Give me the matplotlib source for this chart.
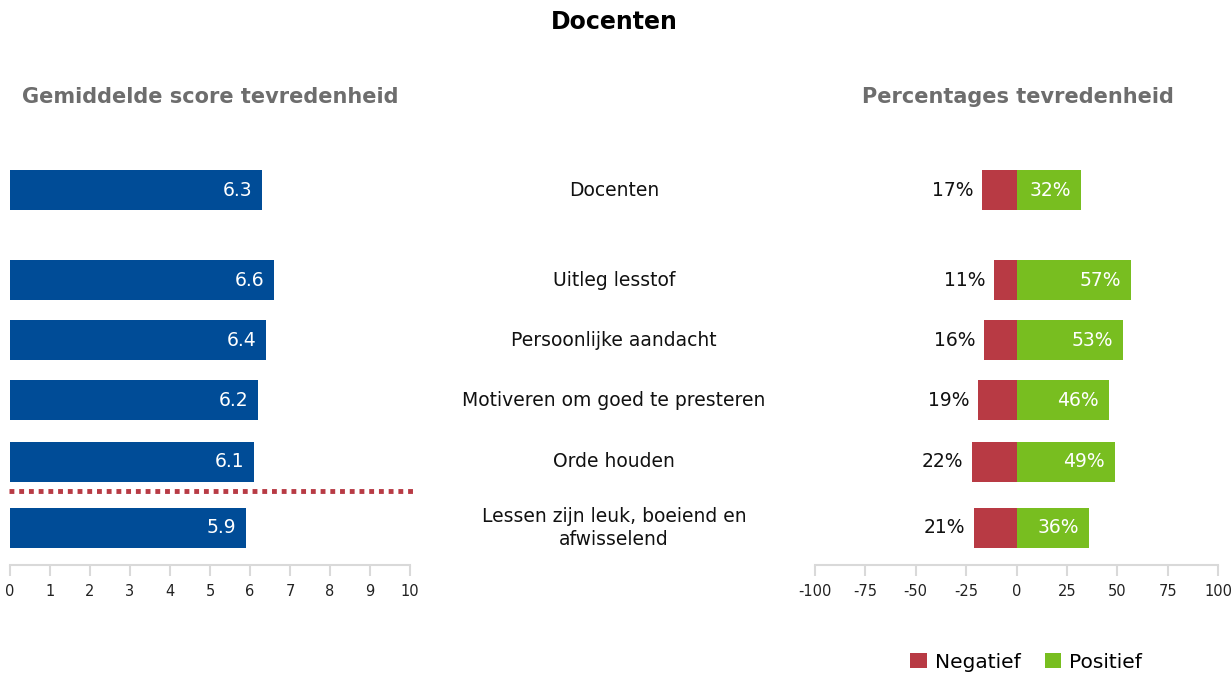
import matplotlib.pyplot as plt
import numpy as np

plt.rcParams["axes.unicode_minus"] = False

categories = ["Docenten", "Uitleg lesstof", "Persoonlijke aandacht",
              "Motiveren om goed te presteren", "Orde houden",
              "Lessen zijn leuk, boeiend en\nafwisselend"]
scores = [6.3, 6.6, 6.4, 6.2, 6.1, 5.9]
negatief = [17, 11, 16, 19, 22, 21]
positief = [32, 57, 53, 46, 49, 36]

BLUE = "#004c97"
RED = "#b83a44"
GREEN = "#78be20"
GRAY_AX = "#d9d9d9"

W, H = 1231, 678
fig = plt.figure(figsize=(W / 100, H / 100), dpi=100)

# row positions (first row separated from the rest)
ypos = np.array([0, 1.5, 2.5, 3.5, 4.53, 5.63])
ylim = (6.25, -0.667)
bh = 0.67


def px_axes(x0, x1, y0, y1):
    return fig.add_axes([x0 / W, 1 - y1 / H, (x1 - x0) / W, (y1 - y0) / H])


def style_axis(ax):
    for s in ["left", "right", "top"]:
        ax.spines[s].set_visible(False)
    ax.spines["bottom"].set_color(GRAY_AX)
    ax.spines["bottom"].set_linewidth(1.5)
    ax.tick_params(axis="x", colors=GRAY_AX, length=8, width=1.5,
                   labelcolor="#222222", labelsize=10.5, pad=6)
    ax.set_yticks([])
    ax.set_ylim(*ylim)


# left: average scores
ax1 = px_axes(10, 410, 150, 565)
ax1.barh(ypos, scores, height=bh, color=BLUE)
for y, v in zip(ypos, scores):
    ax1.text(v - 0.25, y, f"{v:.1f}", ha="right", va="center",
             color="white", fontsize=13.5)
ax1.axhline(5.02, color=RED, lw=3.5, ls=(0, (1, 1)), xmin=-0.003, xmax=1.007,
            clip_on=False)
ax1.set_xlim(0, 10)
ax1.set_xticks(range(0, 11))
style_axis(ax1)

# middle labels
axm = px_axes(414, 814, 150, 565)
axm.set_xlim(0, 1)
axm.set_ylim(*ylim)
axm.axis("off")
for y, c in zip(ypos, categories):
    axm.text(0.5, y, c, ha="center", va="center", fontsize=13.5,
             color="#111111", linespacing=1.25)

# right: percentages
ax2 = px_axes(815, 1218, 150, 565)
neg = -np.array(negatief)
ax2.barh(ypos, neg, height=bh, color=RED, label="Negatief")
ax2.barh(ypos, positief, height=bh, color=GREEN, label="Positief")
for y, n, p in zip(ypos, negatief, positief):
    ax2.text(-n - 4.5, y, f"{n}%", ha="right", va="center",
             color="#111111", fontsize=13.5)
    ax2.text(p - 5, y, f"{p}%", ha="right", va="center",
             color="white", fontsize=13.5)
ax2.set_xlim(-100, 100)
ax2.set_xticks(range(-100, 101, 25))
style_axis(ax2)

fig.legend(loc="center", bbox_to_anchor=(1026 / W, 1 - 662 / H),
           ncol=2, frameon=False, fontsize=14.5, handlelength=0.8,
           handleheight=0.8, handletextpad=0.4, columnspacing=1.2)

fig.text(614 / W, 1 - 22 / H, "Docenten", ha="center", va="center",
         fontsize=17, fontweight="bold", color="black")
fig.text(210 / W, 1 - 97 / H, "Gemiddelde score tevredenheid", ha="center",
         va="center", fontsize=15, fontweight="bold", color="#6d6d6d")
fig.text(1018 / W, 1 - 97 / H, "Percentages tevredenheid", ha="center",
         va="center", fontsize=15, fontweight="bold", color="#6d6d6d")

fig.savefig("out.png", dpi=100)
